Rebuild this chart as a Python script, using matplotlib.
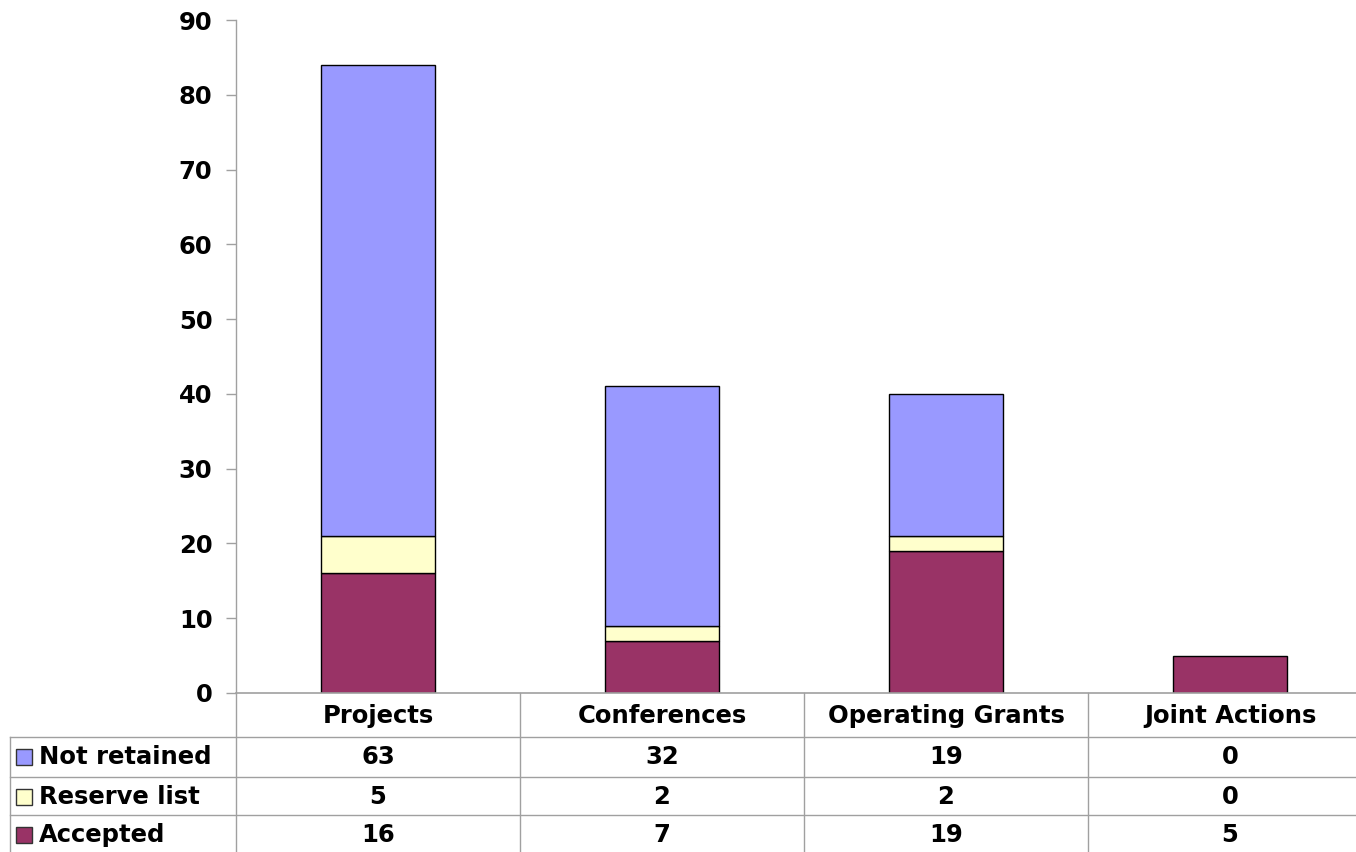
import numpy as np
import matplotlib
matplotlib.use('Agg')
import matplotlib.pyplot as plt
from matplotlib.patches import Rectangle
from matplotlib.lines import Line2D

categories = ['Projects', 'Conferences', 'Operating Grants', 'Joint Actions']
series_names = ['Not retained', 'Reserve list', 'Accepted']
accepted = [16, 7, 19, 5]
reserve = [5, 2, 2, 0]
not_retained = [63, 32, 19, 0]
colors = {'Accepted': '#993366', 'Reserve list': '#FFFFCC', 'Not retained': '#9999FF'}

W, H = 1356, 852
AX_W, AX_H = 1136, 673
GRID = '#a0a0a0'
FS = 17.5

plt.rcParams['font.family'] = ['DejaVu Sans']
plt.rcParams['font.weight'] = 'bold'

fig = plt.figure(figsize=(W / 100, H / 100), dpi=100)
ax = fig.add_axes([236 / W, 1 - 693 / H, AX_W / W, AX_H / H])

x = np.arange(len(categories))
acc = np.array(accepted)
res = np.array(reserve)
nr = np.array(not_retained)
bw = 0.40
ax.bar(x, acc, bw, color=colors['Accepted'], edgecolor='black', linewidth=1)
ax.bar(x[res > 0], res[res > 0], bw, bottom=acc[res > 0], color=colors['Reserve list'],
       edgecolor='black', linewidth=1)
ax.bar(x[nr > 0], nr[nr > 0], bw, bottom=(acc + res)[nr > 0], color=colors['Not retained'],
       edgecolor='black', linewidth=1)

ax.set_xlim(-0.5, len(categories) - 0.5)
ax.set_ylim(0, 90)
ax.set_yticks(np.arange(0, 91, 10))
ax.tick_params(axis='y', length=7, width=1, color=GRID, labelsize=FS, pad=10)
for lab in ax.get_yticklabels():
    lab.set_fontweight('bold')
ax.set_xticks([])
for s in ['top', 'right']:
    ax.spines[s].set_visible(False)
ax.spines['left'].set_color(GRID)
ax.spines['bottom'].set_color(GRID)
ax.spines['left'].set_linewidth(1)
ax.spines['bottom'].set_linewidth(1.2)

# data table below the axes, in pixel-derived axes fractions
def fy(py):
    return (693 - py) / AX_H

def fx(px):
    return (px - 236) / AX_W

row_tops = [737, 777, 815]
row_centers = [757, 797, 835]
header_center = 716

tr = ax.transAxes
lines = []
for yt in row_tops:
    lines.append(Line2D([fx(10), 1.0], [fy(yt), fy(yt)], transform=tr))
lines.append(Line2D([fx(10), fx(10)], [fy(737), fy(852)], transform=tr))
for i in range(len(categories) + 1):
    xb = i / len(categories)
    lines.append(Line2D([xb, xb], [0, fy(852)], transform=tr))
for ln in lines:
    ln.set_color(GRID)
    ln.set_linewidth(1)
    ln.set_clip_on(False)
    ax.add_line(ln)

for i, c in enumerate(categories):
    ax.text(x[i], fy(header_center), c, transform=ax.get_xaxis_transform(),
            ha='center', va='center', fontsize=FS, fontweight='bold')

table_rows = [not_retained, reserve, accepted]
for r, (name, vals) in enumerate(zip(series_names, table_rows)):
    yc = fy(row_centers[r])
    for i, v in enumerate(vals):
        ax.text(x[i], yc, str(v), transform=ax.get_xaxis_transform(),
                ha='center', va='center', fontsize=FS, fontweight='bold')
    ax.text(fx(39), yc, name, transform=tr, ha='left', va='center',
            fontsize=FS, fontweight='bold')
    sq = Rectangle((fx(16), yc - 8 / AX_H), 16 / AX_W, 16 / AX_H, transform=tr,
                   facecolor=colors[name], edgecolor='#333333', linewidth=1, clip_on=False)
    ax.add_patch(sq)

fig.savefig('out.png', dpi=100)
